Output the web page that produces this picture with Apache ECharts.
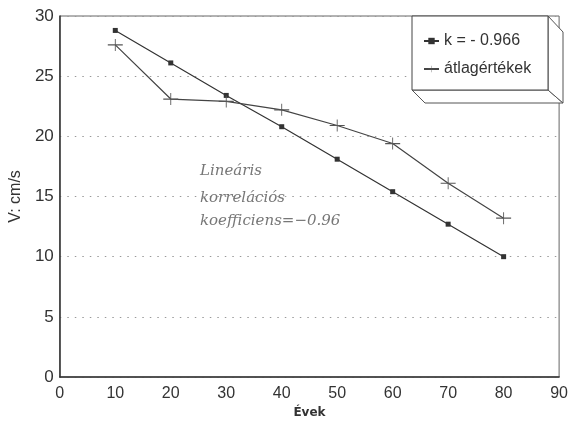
<!DOCTYPE html>
<html>
<head>
<meta charset="utf-8">
<script src="https://cdn.jsdelivr.net/npm/echarts@6/dist/echarts.min.js"></script>
<style>html,body{margin:0;padding:0;background:#fff;}#c{width:571px;height:425px;}</style>
</head>
<body>
<div id="c"></div>
<script>
var years = [10, 20, 30, 40, 50, 60, 70, 80];
var fitValues = [28.8, 26.1, 23.4, 20.8, 18.1, 15.4, 12.7, 10.0];
var meanValues = [27.6, 23.1, 22.9, 22.2, 20.9, 19.4, 16.1, 13.2];
var xTicks = [0, 10, 20, 30, 40, 50, 60, 70, 80, 90];
var yTicks = [0, 5, 10, 15, 20, 25, 30];
var seriesNames = ['k = - 0.966', 'átlagértékek'];
var noteLines = ['Lineáris', 'korrelációs', 'koefficiens=\u22120.96'];

function pairs(xs, ys) { return xs.map(function (x, i) { return [x, ys[i]]; }); }

var chart = echarts.init(document.getElementById('c'));
var plus = 'path://M0,5.4H14V6.6H0Z M6.6,0H7.4V12H6.6Z';
chart.setOption({
  animation: false,
  backgroundColor: '#fff',
  grid: { left: 58, right: 8, top: 16, bottom: 48, show: true, borderColor: '#666', borderWidth: 1 },
  xAxis: {
    type: 'value', min: xTicks[0], max: xTicks[xTicks.length - 1], interval: 10,
    axisLine: { show: true, lineStyle: { color: '#333', width: 1.5 } },
    axisTick: { show: false },
    splitLine: { show: false },
    axisLabel: { fontSize: 16, color: '#333', margin: 9, fontFamily: 'Liberation Sans' },
    name: 'Évek', nameLocation: 'middle', nameGap: 27,
    nameTextStyle: { fontSize: 12, color: '#333', fontWeight: 'bold', fontFamily: 'DejaVu Sans' }
  },
  yAxis: {
    type: 'value', min: yTicks[0], max: yTicks[yTicks.length - 1], interval: 5,
    axisLine: { show: true, lineStyle: { color: '#333', width: 1.5 } },
    axisTick: { show: false },
    splitLine: { show: true, lineStyle: { color: '#999', type: [1.5, 6], width: 1 } },
    axisLabel: { fontSize: 17, color: '#333', margin: 6, fontFamily: 'Liberation Sans' },
    name: 'V: cm/s', nameLocation: 'middle', nameGap: 33,
    nameTextStyle: { fontSize: 16, color: '#333', fontFamily: 'Liberation Sans' }
  },
  legend: {
    z: 100, zlevel: 1,
    orient: 'vertical', left: 418, top: 28, itemGap: 12,
    itemWidth: 15, itemHeight: 8,
    textStyle: { fontSize: 16, color: '#333', fontFamily: 'Liberation Sans' },
    data: seriesNames
  },
  graphic: [
    { type: 'polygon', z: 50, shape: { points: [[412, 90], [425, 103], [563, 103], [548, 90]] }, style: { fill: '#fff', stroke: '#555', lineWidth: 1 } },
    { type: 'polygon', z: 50, shape: { points: [[548, 16], [563, 32], [563, 103], [548, 90]] }, style: { fill: '#fff', stroke: '#555', lineWidth: 1 } },
    { type: 'rect', z: 50, shape: { x: 412, y: 16, width: 136, height: 74 }, style: { fill: '#fff', stroke: '#444', lineWidth: 1 } },
    { type: 'text', left: 200, top: 164, z: 60, style: { text: noteLines[0], font: 'italic 15px "DejaVu Serif"', fill: '#777' } },
    { type: 'text', left: 200, top: 191, z: 60, style: { text: noteLines[1], font: 'italic 15px "DejaVu Serif"', fill: '#777' } },
    { type: 'text', left: 200, top: 214, z: 60, style: { text: noteLines[2], font: 'italic 15px "DejaVu Serif"', fill: '#777' } }
  ],
  series: [
    {
      name: seriesNames[0], type: 'line', data: pairs(years, fitValues),
      symbol: 'rect', symbolSize: 5, color: '#333',
      lineStyle: { color: '#333', width: 1.2 }, itemStyle: { color: '#333' }, z: 3
    },
    {
      name: seriesNames[1], type: 'line', data: pairs(years, meanValues),
      symbol: plus, symbolSize: [15, 12], color: '#444',
      lineStyle: { color: '#444', width: 1.2 }, itemStyle: { color: '#555' }, z: 3
    }
  ]
});
</script>
</body>
</html>
